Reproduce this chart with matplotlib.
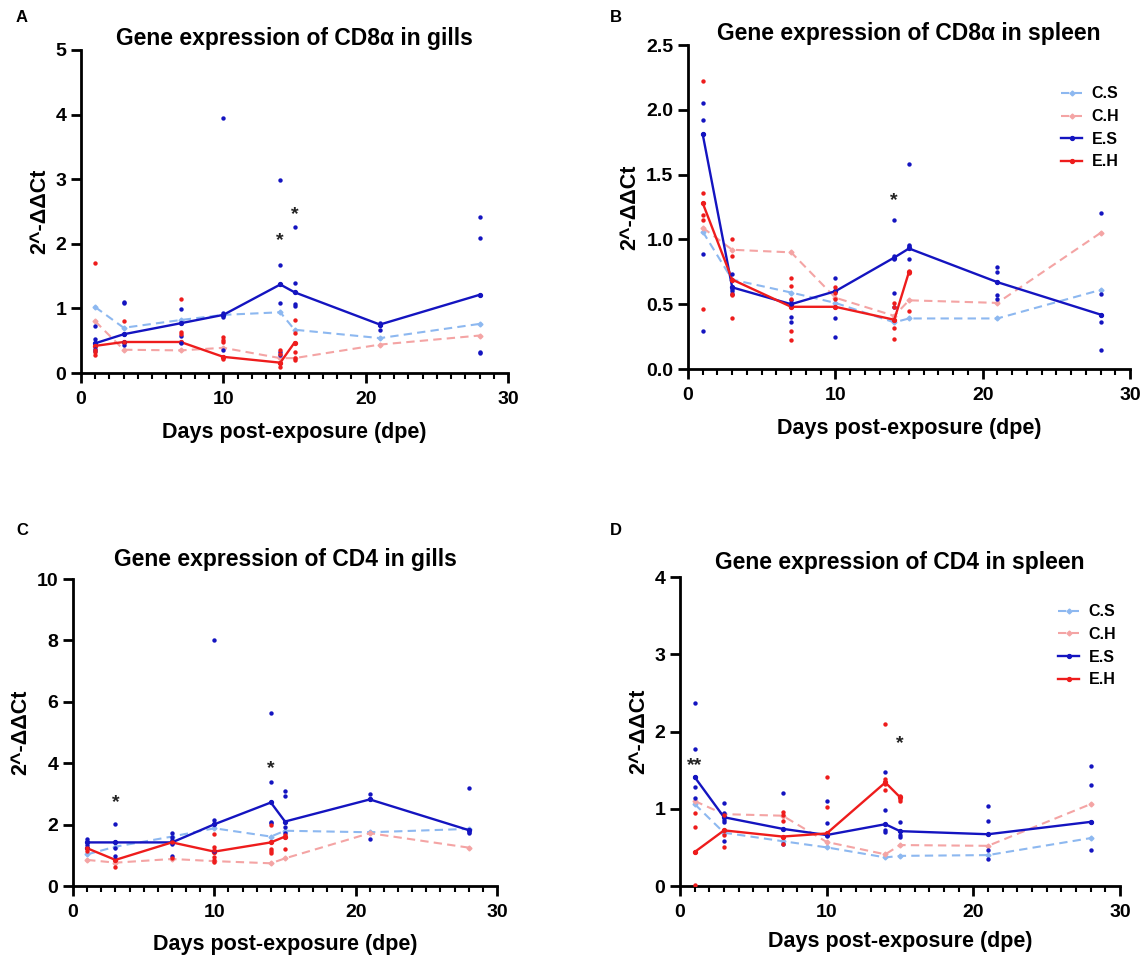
import matplotlib
matplotlib.use("Agg")
import matplotlib.pyplot as plt
from matplotlib.ticker import MultipleLocator

plt.rcParams['font.family'] = ['Liberation Sans', 'DejaVu Sans']
plt.rcParams['font.weight'] = 'bold'

days = [1, 3, 7, 10, 14, 15, 21, 28]
eh_days = [1, 3, 7, 10, 14, 15]

# ---- A: CD8a in gills ----
a_cs = [1.02, 0.70, 0.82, 0.90, 0.94, 0.67, 0.54, 0.76]
a_ch = [0.80, 0.36, 0.35, 0.39, 0.23, 0.23, 0.44, 0.58]
a_es = [0.46, 0.60, 0.77, 0.90, 1.37, 1.25, 0.75, 1.21]
a_eh = [0.42, 0.48, 0.48, 0.25, 0.16, 0.47]
a_es_pts = [[0.73, 0.53, 0.37, 0.34], [1.10, 1.08, 0.60, 0.48, 0.43], [0.99, 0.57, 0.47],
            [3.95, 0.93, 0.87, 0.35], [2.98, 1.67, 1.08, 0.32, 0.28], [2.26, 1.40, 1.07, 1.03],
            [0.78, 0.75, 0.66], [2.41, 2.09, 0.33, 0.31]]
a_eh_pts = [[1.71, 0.36, 0.32, 0.28], [0.80, 0.48], [1.15, 0.64, 0.60],
            [0.55, 0.51, 0.48, 0.24, 0.22], [0.35, 0.30, 0.15, 0.10], [0.82, 0.62, 0.33, 0.23, 0.20]]
a_stars = [(14, 2.05, '*'), (15, 2.45, '*')]

# ---- B: CD8a in spleen ----
b_cs = [1.06, 0.69, 0.59, 0.51, 0.36, 0.39, 0.39, 0.61]
b_ch = [1.09, 0.92, 0.90, 0.55, 0.41, 0.53, 0.51, 1.05]
b_es = [1.81, 0.63, 0.50, 0.60, 0.86, 0.93, 0.67, 0.42]
b_eh = [1.28, 0.69, 0.48, 0.48, 0.38, 0.75]
b_es_pts = [[2.05, 1.92, 1.81, 0.89, 0.29], [0.73, 0.62, 0.60, 0.58], [0.53, 0.51, 0.50, 0.40, 0.36],
            [0.70, 0.60, 0.39, 0.25], [1.15, 0.87, 0.85, 0.59, 0.48], [1.58, 0.96, 0.95, 0.85],
            [0.79, 0.75, 0.57, 0.54], [1.20, 0.58, 0.42, 0.36, 0.15]]
b_eh_pts = [[2.22, 1.36, 1.19, 1.15, 0.46], [1.00, 0.87, 0.58, 0.57, 0.39], [0.70, 0.64, 0.54, 0.29, 0.22],
            [0.63, 0.59, 0.54], [0.51, 0.48, 0.32, 0.23], [0.76, 0.74, 0.45]]
b_stars = [(14, 1.30, '*')]

# ---- C: CD4 in gills ----
c_cs = [1.03, 1.28, 1.61, 1.88, 1.61, 1.80, 1.75, 1.86]
c_ch = [0.85, 0.76, 0.88, 0.81, 0.74, 0.90, 1.72, 1.25]
c_es = [1.42, 1.42, 1.42, 2.01, 2.72, 2.10, 2.82, 1.82]
c_eh = [1.23, 0.85, 1.42, 1.12, 1.42, 1.61]
c_es_pts = [[1.52, 1.33, 1.23], [2.02, 1.44, 1.23, 0.99], [1.74, 1.60, 1.50, 1.36, 0.98],
            [8.0, 2.15, 1.14], [5.65, 3.38, 2.09, 2.04], [3.10, 2.93, 1.91, 1.74],
            [2.99, 2.83, 1.52], [3.20, 1.77, 1.72]]
c_eh_pts = [[1.23, 1.15], [0.63], [1.44, 0.90], [1.68, 1.26, 1.17, 0.93, 0.85, 0.77],
            [2.00, 1.21, 1.14, 1.09], [1.66, 1.21]]
c_stars = [(3, 2.71, '*'), (14, 3.83, '*')]

# ---- D: CD4 in spleen ----
d_cs = [1.06, 0.69, 0.58, 0.50, 0.37, 0.39, 0.40, 0.62]
d_ch = [1.10, 0.93, 0.91, 0.57, 0.41, 0.53, 0.52, 1.06]
d_es = [1.41, 0.89, 0.74, 0.66, 0.80, 0.71, 0.67, 0.83]
d_eh = [0.44, 0.72, 0.64, 0.68, 1.34, 1.15]
d_es_pts = [[2.37, 1.77, 1.41, 1.28, 1.14], [1.07, 0.95, 0.85, 0.83, 0.58], [1.20, 0.55],
            [1.10, 0.82, 0.65], [1.48, 0.99, 0.73, 0.70], [0.83, 0.71, 0.66, 0.64],
            [1.04, 0.84, 0.46, 0.35], [1.55, 1.31, 0.83, 0.47]]
d_eh_pts = [[0.95, 0.77, 0.44, 0.01], [0.92, 0.66, 0.50], [0.96, 0.92, 0.84, 0.54],
            [1.41, 1.02], [2.10, 1.38, 1.32, 1.24], [1.16, 1.12, 1.10]]
d_stars = [(1.0, 1.56, '**'), (15, 1.85, '*')]

col_cs = '#8db8f0'
col_ch = '#f4a4a4'
col_es = '#1414c0'
col_eh = '#ee1c1c'

fig = plt.figure(figsize=(11.45, 9.55), dpi=100)
W, H = 1145, 955


def add_ax(x0, x1, ytop, ybot):
    return fig.add_axes([x0 / W, (H - ybot) / H, (x1 - x0) / W, (ybot - ytop) / H])


def panel(ax, cs, ch, es, eh, es_pts, eh_pts, stars, ymax, ystep, title, yfmt,
          tpad, xpad, leg=None):
    for d, pts in zip(days, es_pts):
        ax.scatter([d] * len(pts), pts, s=10, color=col_es, zorder=4, linewidths=0)
    for d, pts in zip(eh_days, eh_pts):
        ax.scatter([d] * len(pts), pts, s=10, color=col_eh, zorder=4, linewidths=0)
    ax.plot(days, cs, color=col_cs, ls='--', lw=1.5, marker='D', ms=2.5, dashes=(4, 2.5), label='C.S', zorder=2)
    ax.plot(days, ch, color=col_ch, ls='--', lw=1.5, marker='D', ms=2.5, dashes=(4, 2.5), label='C.H', zorder=2)
    ax.plot(days, es, color=col_es, lw=1.7, marker='o', ms=2.8, label='E.S', zorder=3)
    ax.plot(eh_days, eh, color=col_eh, lw=1.7, marker='o', ms=2.8, label='E.H', zorder=3)
    for x, y, s in stars:
        ax.text(x, y, s, ha='center', va='center', fontsize=14, color='#222222')

    ax.set_xlim(0, 30)
    ax.set_ylim(0, ymax)
    ax.xaxis.set_major_locator(MultipleLocator(10))
    ax.xaxis.set_minor_locator(MultipleLocator(1))
    ax.yaxis.set_major_locator(MultipleLocator(ystep))
    if yfmt:
        ax.yaxis.set_major_formatter(plt.FormatStrFormatter(yfmt))
    for s in ['top', 'right']:
        ax.spines[s].set_visible(False)
    for s in ['left', 'bottom']:
        ax.spines[s].set_linewidth(2)
    ax.tick_params(which='major', length=7, width=2, labelsize=14)
    ax.tick_params(axis='x', which='major', pad=6)
    ax.tick_params(which='minor', length=4, width=1.5)
    for lab in ax.get_xticklabels() + ax.get_yticklabels():
        lab.set_fontweight('bold')
    ax.set_title(title, fontsize=16.5, fontweight='bold', pad=tpad)
    ax.set_xlabel('Days post-exposure (dpe)', fontsize=15.5, fontweight='bold', labelpad=xpad)
    ax.set_ylabel('2^-ΔΔCt', fontsize=15.5, fontweight='bold', labelpad=4)
    if leg:
        ax.legend(loc='upper left', bbox_to_anchor=leg, frameon=False, borderpad=0,
                  borderaxespad=0, prop={'weight': 'bold', 'size': 11.5}, handlelength=1.3,
                  handletextpad=0.6, labelspacing=0.48, numpoints=1)


axA = add_ax(81, 508, 50, 373)
panel(axA, a_cs, a_ch, a_es, a_eh, a_es_pts, a_eh_pts, a_stars, 5, 1,
      'Gene expression of CD8α in gills', None, 1.5, 10)
axB = add_ax(688, 1130, 45, 369)
panel(axB, b_cs, b_ch, b_es, b_eh, b_es_pts, b_eh_pts, b_stars, 2.5, 0.5,
      'Gene expression of CD8α in spleen', '%.1f', 1, 10, leg=(0.845, 0.872))
axC = add_ax(73, 497, 579, 886)
panel(axC, c_cs, c_ch, c_es, c_eh, c_es_pts, c_eh_pts, c_stars, 10, 2,
      'Gene expression of CD4 in gills', None, 9.5, 9.5)
axD = add_ax(680, 1120, 577, 886)
panel(axD, d_cs, d_ch, d_es, d_eh, d_es_pts, d_eh_pts, d_stars, 4, 1,
      'Gene expression of CD4 in spleen', None, 6, 7.5, leg=(0.86, 0.912))

for lab, x, y in [('A', 16, 18), ('B', 610, 18), ('C', 16, 530), ('D', 610, 530)]:
    fig.text(x / W, 1 - y / H, lab, fontsize=12, fontweight='bold', va='center')

fig.savefig('out.png', dpi=100)
